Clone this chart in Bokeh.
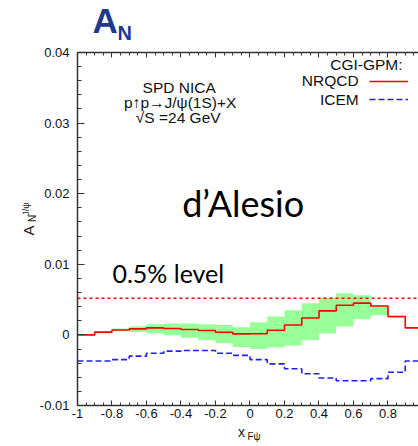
import numpy as np
from bokeh.plotting import figure
from bokeh.layouts import column, row
from bokeh.models import (Label, Span, LinearAxis, FixedTicker, Legend, LegendItem, Range1d)
from bokeh.embed import file_html
from bokeh.resources import INLINE
from bokeh.core.properties import value

# ---------------- data ----------------
bin_edges = [-1.0, -0.9, -0.8, -0.7, -0.6, -0.5, -0.4, -0.3, -0.2, -0.1, 0.0,
             0.1, 0.2, 0.3, 0.4, 0.5, 0.6, 0.7, 0.8, 0.9, 1.0]
nrqcd = [0.0000, 0.0004, 0.0007, 0.00085, 0.0010, 0.0009, 0.00076, 0.00062, 0.00038, 0.00014,
         0.00016, 0.00065, 0.0014, 0.0024, 0.0034, 0.0042, 0.0045, 0.0041, 0.0026, 0.0010]
band_upper = [0.00005, 0.00045, 0.0009, 0.00124, 0.0015, 0.0016, 0.0016, 0.0015, 0.0014, 0.0011,
              0.0018, 0.0026, 0.0035, 0.0045, 0.0053, 0.0059, 0.0056, 0.0042, 0.0027, 0.0011]
band_lower = [-0.00005, 0.00035, 0.0005, 0.0004, 0.0002, -0.00005, -0.0004, -0.00075, -0.0012, -0.0017,
              -0.0020, -0.0018, -0.0015, -0.00075, 0.0002, 0.0012, 0.0022, 0.0028, 0.0024, 0.0009]
icem = [-0.0037, -0.0037, -0.0035, -0.0030, -0.0026, -0.0023, -0.0022, -0.0022, -0.0026, -0.0029,
        -0.0035, -0.0041, -0.0048, -0.0055, -0.0061, -0.0065, -0.0065, -0.0062, -0.0053, -0.0037]
level_05 = 0.0052

x_ticks = [-1.0, -0.8, -0.6, -0.4, -0.2, 0.0, 0.2, 0.4, 0.6, 0.8, 1.0]
x_tick_labels = ["-1", "-0.8", "-0.6", "-0.4", "-0.2", "0", "0.2", "0.4", "0.6", "0.8", "1"]
y_ticks = [-0.01, 0.0, 0.01, 0.02, 0.03, 0.04]
y_tick_labels = ["-0.01", "0", "0.01", "0.02", "0.03", "0.04"]

x_minor = [round(v, 3) for v in np.arange(-1.0, 1.0001, 0.05)]
y_minor = [round(v, 4) for v in np.arange(-0.01, 0.04001, 0.002)]

# ---------------- layout geometry (canvas pixels) ----------------
W, H = 418, 446
TOP_STRIP = 44          # strip holding the big A_N title
BOTTOM_STRIP = 23       # strip holding the x-axis title
LEFT_STRIP = 36         # strip holding the y-axis title
FL, FT, FB = 76, 52, 405  # frame left / top / bottom on the canvas
MAIN_H = H - TOP_STRIP - BOTTOM_STRIP
MAIN_W = W - LEFT_STRIP
PX_PER_X = 173.0
X_END = -1 + (W - FL) / PX_PER_X

p = figure(width=MAIN_W, height=MAIN_H, x_range=Range1d(-1, X_END), y_range=Range1d(-0.01, 0.04),
           output_backend="svg", toolbar_location=None,
           min_border_left=FL - LEFT_STRIP, min_border_right=0,
           min_border_top=FT - TOP_STRIP, min_border_bottom=(TOP_STRIP + MAIN_H) - FB)
p.outline_line_color = None
p.xgrid.visible = False
p.ygrid.visible = False
p.background_fill_color = "white"
p.border_fill_color = "white"

def dx(px):
    return -1 + (px - FL) / PX_PER_X

def dy(py):
    return 0.04 - (py - FT) / ((FB - FT) / 0.05)

AX_COL = "#333333"
TICK_FONT = "Liberation Sans"

def style_axis(ax, major_in, minor_in):
    ax.axis_line_color = AX_COL
    ax.axis_line_width = 1.5
    ax.major_tick_line_color = AX_COL
    ax.minor_tick_line_color = AX_COL
    ax.major_tick_in = major_in
    ax.major_tick_out = 0
    ax.minor_tick_in = minor_in
    ax.minor_tick_out = 0
    ax.major_label_text_font = TICK_FONT
    ax.major_label_text_font_size = "13px"
    ax.major_label_text_color = "#111111"

xa = p.xaxis[0]
xa.ticker = FixedTicker(ticks=x_ticks, minor_ticks=x_minor)
xa.major_label_overrides = dict(zip(x_ticks, x_tick_labels))
style_axis(xa, 5, 3)
xa.major_label_standoff = 3

ya = p.yaxis[0]
ya.ticker = FixedTicker(ticks=y_ticks, minor_ticks=y_minor)
ya.major_label_overrides = dict(zip(y_ticks, y_tick_labels))
style_axis(ya, 7, 4)
ya.major_label_standoff = 8

top = LinearAxis(ticker=FixedTicker(ticks=x_ticks, minor_ticks=x_minor),
                 major_label_overrides={t: "" for t in x_ticks})
style_axis(top, 5, 3)
top.major_label_text_font_size = "0px"
top.major_label_standoff = 0
p.add_layout(top, "above")

# ---------------- glyphs ----------------
band = p.varea_step(x=bin_edges, y1=band_lower + [band_lower[-1]], y2=band_upper + [band_upper[-1]],
                    step_mode="after", fill_color="#99ff99", fill_alpha=1.0)
red = p.step(x=bin_edges, y=nrqcd + [nrqcd[-1]], mode="after", line_color="#ff0000", line_width=1.6)
blue = p.step(x=bin_edges, y=icem + [icem[-1]], mode="after", line_color="#2020ff", line_width=1.6,
              line_dash="6 3")

p.add_layout(Span(location=level_05, dimension="width", line_color="#ff0000", line_width=1.5,
                  line_dash="3 3"))

# ---------------- legend ----------------
legend = Legend(items=[LegendItem(label=value(""), renderers=[red]),
                       LegendItem(label=value(""), renderers=[blue])],
                location=(368 - FL, FB - 108), orientation="vertical",
                glyph_width=39, glyph_height=18, label_height=18, label_width=0,
                label_standoff=0, spacing=0, padding=0, margin=0,
                border_line_alpha=0, background_fill_alpha=0)
p.add_layout(legend)

def add_label(fig, text, x, y, size, font="Liberation Sans", align="left", baseline="middle",
              color="#111111", style="normal", angle=0.0):
    fig.add_layout(Label(x=x, y=y, text=text, text_font=font, text_font_size=size,
                         text_align=align, text_baseline=baseline, text_color=color,
                         text_font_style=style, angle=angle))

def lab(text, px, py, size, **kw):
    add_label(p, text, dx(px), dy(py), size, **kw)

lab("CGI-GPM:", 402, 64, "15.5px", align="right")
lab("NRQCD", 358, 80, "15.5px", align="right")
lab("ICEM", 358, 99, "15.5px", align="right")

lab("SPD NICA", 178, 87, "15.5px", align="center")
lab("p\u2191p\u2192J/\u03c8(1S)+X", 179, 102, "15.5px", align="center")
lab("\u221aS =24 GeV", 177, 117, "15.5px", align="center")

lab("d\u2019Alesio", 181, 202, "36px", font="Lato", color="#000000")
lab("0.5% level", 111, 272.5, "25px", font="Lato", color="#000000")

# ---------------- text strips (ranges in canvas pixels) ----------------
def strip(w, h, x0, y0):
    f = figure(width=w, height=h, x_range=Range1d(x0, x0 + w), y_range=Range1d(y0 + h, y0),
               output_backend="svg", toolbar_location=None, x_axis_type=None, y_axis_type=None,
               min_border_left=0, min_border_right=0, min_border_top=0, min_border_bottom=0)
    f.outline_line_color = None
    f.xgrid.visible = False
    f.ygrid.visible = False
    f.background_fill_color = "white"
    f.border_fill_color = "white"
    return f

t_strip = strip(W, TOP_STRIP, 0, 0)
add_label(t_strip, "A", 92, 20, "35px", color="#1f3a8c", style="bold")
add_label(t_strip, "N", 117, 32.6, "20px", color="#1f3a8c", style="bold")

l_strip = strip(LEFT_STRIP, MAIN_H, 0, TOP_STRIP)
add_label(l_strip, "A", 27.5, 235, "15px", align="center", color="#222222", angle=np.pi / 2)
add_label(l_strip, "N", 31.5, 222, "10px", align="center", color="#222222", angle=np.pi / 2)
add_label(l_strip, "J/\u03c8", 25.5, 212, "9px", align="center", color="#222222", angle=np.pi / 2)

b_strip = strip(W, BOTTOM_STRIP, 0, TOP_STRIP + MAIN_H)
add_label(b_strip, "x", 241, 431, "14px", align="center", color="#222222")
add_label(b_strip, "F\u03c8", 253.5, 435.5, "10px", align="center", color="#222222")

layout = column(t_strip, row(l_strip, p, spacing=0), b_strip, spacing=0)

open("out.html", "w").write(file_html(layout, INLINE))
